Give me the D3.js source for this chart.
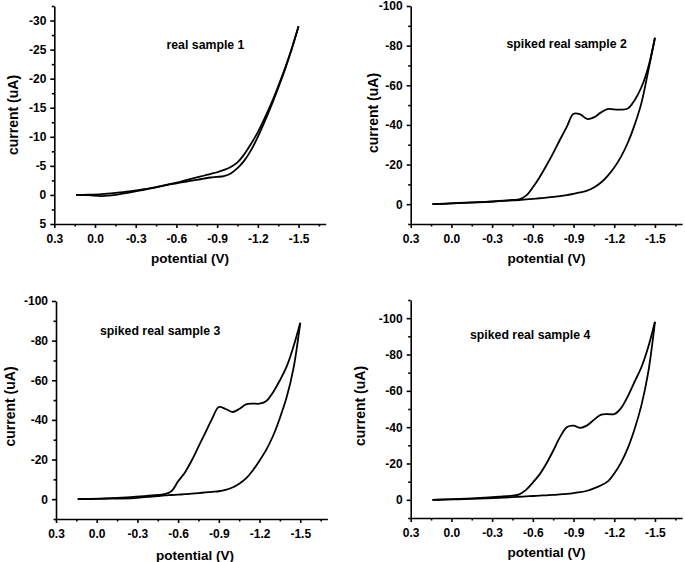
<!DOCTYPE html>
<html>
<head>
<meta charset="utf-8">
<script src="https://cdn.jsdelivr.net/npm/d3@7"></script>
<style>
  html, body { margin: 0; padding: 0; background: #fff; }
  svg { display: block; font-family: "Liberation Sans", Arial, sans-serif; }
  .tick text { font-weight: bold; font-size: 12px; fill: #000; }
  .axis path, .axis line { stroke: #000; stroke-width: 1.6px; }
</style>
</head>
<body>
<svg id="chart" width="685" height="562"></svg>
<script>
// ---------------- DATA ----------------
const potentials = [0.14, 0.05, -0.05, -0.15, -0.25, -0.35, -0.45, -0.5, -0.55, -0.6, -0.65, -0.7, -0.75, -0.8, -0.85, -0.9, -0.95, -1.0, -1.05, -1.1, -1.15, -1.2, -1.25, -1.3, -1.35, -1.4, -1.45, -1.5];

const sample1Cathodic = [0, -0.05, -0.15, -0.35, -0.6, -0.95, -1.35, -1.6, -1.85, -2.1, -2.4, -2.7, -3.0, -3.3, -3.6, -3.9, -4.3, -4.8, -5.6, -7.0, -8.8, -10.8, -13.2, -15.8, -18.7, -21.8, -25.2, -29];
const sample1Return   = [0, 0.05, 0.2, 0.0, -0.4, -0.85, -1.3, -1.55, -1.8, -2.0, -2.2, -2.4, -2.6, -2.8, -3.0, -3.1, -3.25, -3.7, -4.6, -5.9, -7.7, -10.0, -12.6, -15.4, -18.4, -21.6, -25.1, -29];

const sample2Cathodic = [0, -0.3, -0.6, -0.9, -1.2, -1.6, -2.1, -2.4, -4.3, -8.5, -13.6, -19.5, -25.8, -32.5, -39, -45.6, -45.3, -43.0, -43.8, -46.2, -48, -47.8, -47.7, -48.3, -52.5, -59, -69, -84];
const sample2Return   = [0, -0.2, -0.5, -0.8, -1.1, -1.5, -1.9, -2.1, -2.4, -2.7, -3.0, -3.3, -3.7, -4.1, -4.6, -5.2, -5.9, -6.8, -8.4, -10.8, -14.2, -18.5, -24, -31, -40, -51, -67, -84];

const sample3Cathodic = [0, -0.2, -0.4, -0.7, -1.0, -1.5, -2.1, -2.5, -4.0, -9, -13.5, -19.5, -26.5, -33.5, -40.5, -46.5, -45.5, -44, -45.5, -47.8, -48.2, -48.2, -49.5, -54, -60, -67, -77, -89];
const sample3Return   = [0, -0.1, -0.2, -0.3, -0.4, -1.0, -1.6, -1.9, -2.1, -2.3, -2.5, -2.8, -3.1, -3.4, -3.7, -4.0, -4.7, -5.9, -7.8, -10.5, -14.5, -19.5, -25, -32, -41, -51.5, -66, -89];

const sample4Cathodic = [0, -0.2, -0.5, -0.8, -1.2, -1.7, -2.3, -3.0, -5.5, -9.5, -14, -20, -27, -34.5, -40, -40.8, -39.6, -41, -44, -46.8, -47.2, -47.2, -50.5, -57, -65, -73, -84, -98];
const sample4Return   = [0, -0.1, -0.3, -0.5, -0.8, -1.1, -1.5, -1.7, -1.9, -2.1, -2.3, -2.5, -2.7, -3.0, -3.3, -3.7, -4.2, -5.0, -6.3, -7.9, -10, -14.5, -20.5, -28.5, -39, -52, -70, -98];

const sampleNames = ["real sample 1", "spiked real sample 2", "spiked real sample 3", "spiked real sample 4"];

const xTickValues = [0.3, 0.0, -0.3, -0.6, -0.9, -1.2, -1.5];
const xTickLabels = ["0.3", "0.0", "-0.3", "-0.6", "-0.9", "-1.2", "-1.5"];
const xMinorTicks = [0.15, -0.15, -0.45, -0.75, -1.05, -1.35, -1.65];

const yTicks1 = [-30, -25, -20, -15, -10, -5, 0, 5];
const yLabels1 = ["-30", "-25", "-20", "-15", "-10", "-5", "0", "5"];
const yMinor1 = [-32.5, -27.5, -22.5, -17.5, -12.5, -7.5, -2.5, 2.5];

const yTicks2 = [-100, -80, -60, -40, -20, 0];
const yLabels2 = ["-100", "-80", "-60", "-40", "-20", "0"];
const yMinor2 = [-90, -70, -50, -30, -10, 10];

const yTicks4 = [-100, -80, -60, -40, -20, 0];
const yLabels4 = ["-100", "-80", "-60", "-40", "-20", "0"];
const yMinor4 = [-110, -90, -70, -50, -30, -10, 10];

const xTitle = "potential (V)";
const yTitle = "current (uA)";

// ---------------- LAYOUT ----------------
const panels = [
  { cat: sample1Cathodic, ret: sample1Return, name: sampleNames[0], x0: 54.3, xAxisY: 224, yTop: 6, yDomain: [5, -32.5],
    yTicks: yTicks1, yLabels: yLabels1, yMinor: yMinor1,
    label: [166.5, 48.5], yTitlePos: [13.5, 115], xTitlePos: [190, 263] },
  { cat: sample2Cathodic, ret: sample2Return, name: sampleNames[1], x0: 410.7, xAxisY: 224, yTop: 6, yDomain: [10, -100],
    yTicks: yTicks2, yLabels: yLabels2, yMinor: yMinor2,
    label: [506.5, 47.5], yTitlePos: [373.5, 113], xTitlePos: [546.5, 263] },
  { cat: sample3Cathodic, ret: sample3Return, name: sampleNames[2], x0: 56, xAxisY: 519, yTop: 301, yDomain: [10, -100],
    yTicks: yTicks2, yLabels: yLabels2, yMinor: yMinor2,
    label: [100, 335], yTitlePos: [10.5, 406.5], xTitlePos: [195, 560] },
  { cat: sample4Cathodic, ret: sample4Return, name: sampleNames[3], x0: 410.7, xAxisY: 518, yTop: 300, yDomain: [10, -110],
    yTicks: yTicks4, yLabels: yLabels4, yMinor: yMinor4,
    label: [470, 339], yTitlePos: [360.5, 406], xTitlePos: [546.5, 556.5] }
];

const xWidth = 271.4;
const svg = d3.select("#chart");

panels.forEach(p => {
  const x = d3.scaleLinear().domain([0.3, -1.7]).range([p.x0, p.x0 + xWidth]);
  const y = d3.scaleLinear().domain(p.yDomain).range([p.xAxisY, p.yTop]);

  const g = svg.append("g");

  // minor ticks
  g.append("g").attr("class", "axis").attr("transform", `translate(0,${p.xAxisY})`)
    .call(d3.axisBottom(x).tickValues(xMinorTicks).tickSize(2.5).tickSizeOuter(0).tickFormat(""))
    .select(".domain").remove();
  g.append("g").attr("class", "axis").attr("transform", `translate(${p.x0},0)`)
    .call(d3.axisLeft(y).tickValues(p.yMinor).tickSize(2.5).tickSizeOuter(0).tickFormat(""))
    .select(".domain").remove();

  // major axes
  g.append("g").attr("class", "axis").attr("transform", `translate(0,${p.xAxisY})`)
    .call(d3.axisBottom(x).tickValues(xTickValues).tickSize(4).tickPadding(6).tickSizeOuter(0)
      .tickFormat((d, i) => xTickLabels[i]));
  g.append("g").attr("class", "axis").attr("transform", `translate(${p.x0},0)`)
    .call(d3.axisLeft(y).tickValues(p.yTicks).tickSize(4).tickPadding(4).tickSizeOuter(0)
      .tickFormat((d, i) => p.yLabels[i]));

  // curves
  const line = d3.line().x(d => x(d[0])).y(d => y(d[1])).curve(d3.curveCatmullRom.alpha(0.5));
  [p.cat, p.ret].forEach(series => {
    g.append("path")
      .datum(potentials.map((v, i) => [v, series[i]]))
      .attr("d", line)
      .attr("fill", "none")
      .attr("stroke", "#000")
      .attr("stroke-width", 1.8)
      .attr("stroke-linejoin", "round");
  });

  // sample label
  g.append("text").attr("x", p.label[0]).attr("y", p.label[1])
    .attr("font-size", 12.3).attr("font-weight", "bold").text(p.name);

  // axis titles
  g.append("text").attr("x", p.xTitlePos[0]).attr("y", p.xTitlePos[1])
    .attr("text-anchor", "middle").attr("font-size", 13.5).attr("font-weight", "bold").text(xTitle);
  g.append("text").attr("transform", `translate(${p.yTitlePos[0]},${p.yTitlePos[1]}) rotate(-90)`)
    .attr("text-anchor", "middle").attr("dy", "0.35em")
    .attr("font-size", 14).attr("font-weight", "bold").text(yTitle);
});
</script>
</body>
</html>
